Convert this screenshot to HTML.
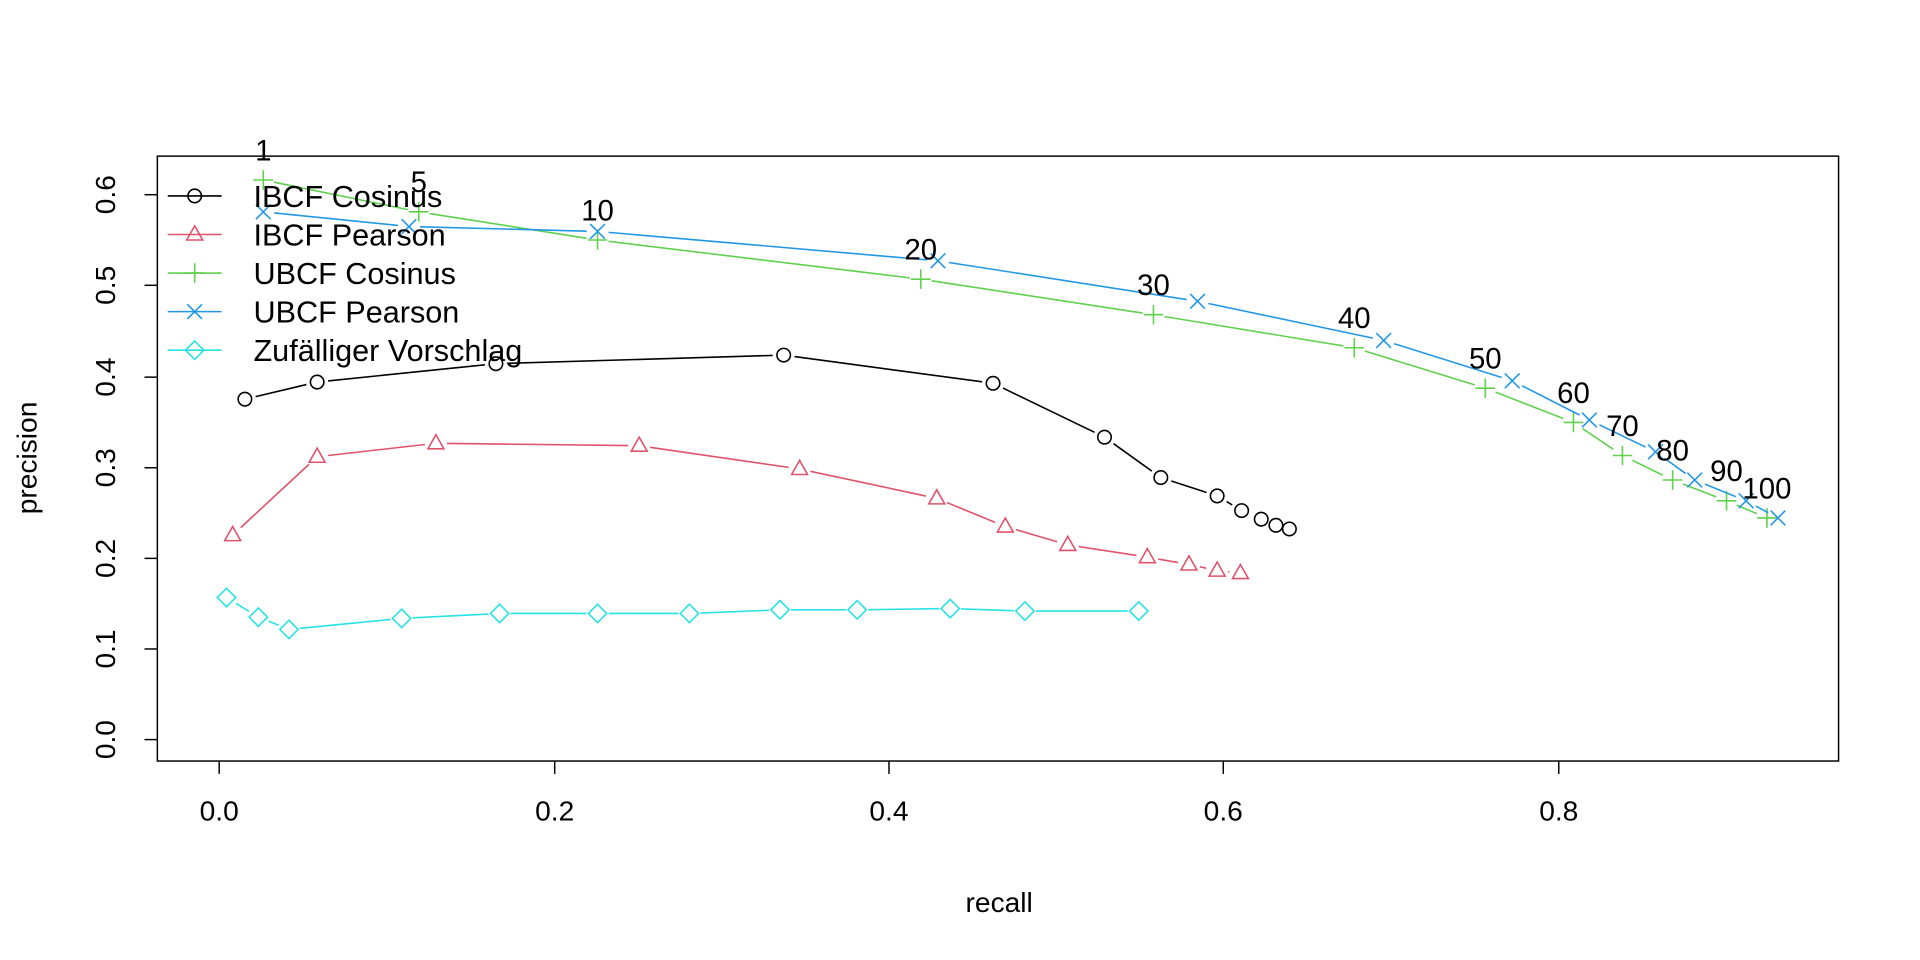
<!DOCTYPE html>
<html><head><meta charset="utf-8"><style>html,body{margin:0;padding:0;background:#fff}svg{display:block}text{font-family:"Liberation Sans",Arial,sans-serif}</style></head>
<body>
<svg id="s" width="1920" height="960" viewBox="0 0 1568 784" xmlns="http://www.w3.org/2000/svg">
<rect width="1568" height="784" fill="#fff"/>
<rect x="128.5" y="127.5" width="1373" height="494" fill="none" stroke="#000" stroke-width="1.2"/>
<g stroke="#000" stroke-width="1.2">
<line x1="179" y1="622" x2="179" y2="632"/><line x1="453" y1="622" x2="453" y2="632"/><line x1="726" y1="622" x2="726" y2="632"/><line x1="999" y1="622" x2="999" y2="632"/><line x1="1273" y1="622" x2="1273" y2="632"/>
<line x1="118" y1="604" x2="128" y2="604"/><line x1="118" y1="530" x2="128" y2="530"/><line x1="118" y1="456" x2="128" y2="456"/><line x1="118" y1="382" x2="128" y2="382"/><line x1="118" y1="308" x2="128" y2="308"/><line x1="118" y1="233" x2="128" y2="233"/><line x1="118" y1="159" x2="128" y2="159"/>
</g>
<g font-size="23" text-anchor="middle">
<text x="179" y="670">0.0</text><text x="453" y="670">0.2</text><text x="726" y="670">0.4</text><text x="999" y="670">0.6</text><text x="1273" y="670">0.8</text>
<text transform="translate(94,604) rotate(-90)">0.0</text><text transform="translate(94,530) rotate(-90)">0.1</text><text transform="translate(94,456) rotate(-90)">0.2</text><text transform="translate(94,382) rotate(-90)">0.3</text><text transform="translate(94,308) rotate(-90)">0.4</text><text transform="translate(94,233) rotate(-90)">0.5</text><text transform="translate(94,159) rotate(-90)">0.6</text>
<text x="816" y="745">recall</text>
<text transform="translate(30,374) rotate(-90)">precision</text>
</g>
<g id="plot"></g>
</svg>
<script>
const g=document.getElementById('plot');const NS='http://www.w3.org/2000/svg';
function el(t,a){const e=document.createElementNS(NS,t);for(const k in a)e.setAttribute(k,a[k]);g.appendChild(e);return e;}
function mark(type,x,y,c){const r=5.5;
 if(type=='o')el('circle',{cx:x,cy:y,r:r,fill:'none',stroke:c,'stroke-width':1.3});
 if(type=='t')el('polygon',{points:`${x},${y-7} ${x-6.5},${y+4.5} ${x+6.5},${y+4.5}`,fill:'none',stroke:c,'stroke-width':1.3});
 if(type=='p'){el('line',{x1:x-8,y1:y,x2:x+8,y2:y,stroke:c,'stroke-width':1.3});el('line',{x1:x,y1:y-8,x2:x,y2:y+8,stroke:c,'stroke-width':1.3});}
 if(type=='x'){el('line',{x1:x-6,y1:y-6,x2:x+6,y2:y+6,stroke:c,'stroke-width':1.3});el('line',{x1:x-6,y1:y+6,x2:x+6,y2:y-6,stroke:c,'stroke-width':1.3});}
 if(type=='d')el('polygon',{points:`${x},${y-7.5} ${x+7.5},${y} ${x},${y+7.5} ${x-7.5},${y}`,fill:'none',stroke:c,'stroke-width':1.3});
}
function series(pts,type,c){const gap=9;
 for(let i=0;i<pts.length-1;i++){const [x1,y1]=pts[i],[x2,y2]=pts[i+1];const dx=x2-x1,dy=y2-y1,L=Math.hypot(dx,dy);
  if(L>2*gap){const ux=dx/L,uy=dy/L;el('line',{x1:x1+ux*gap,y1:y1+uy*gap,x2:x2-ux*gap,y2:y2-uy*gap,stroke:c,'stroke-width':1.3});}}
 pts.forEach(p=>mark(type,p[0],p[1],c));}
series([[200,326],[259,312],[405,297],[640,290],[811,313],[902,357],[948,390],[994,405],[1014,417],[1030,424],[1042,429],[1053,432]],'o','#000');
series([[190,437],[259,373],[356,362],[522,364],[653,383],[765,407],[821,430],[872,445],[937,455],[971,461],[994,466],[1013,468]],'t','#DF536B');
const gr=[[215,147],[342,173],[488,196],[752,228],[942,257],[1106,284],[1213,317],[1285,345],[1325,372],[1366,392],[1410,409],[1443,423]];
series(gr,'p','#61D04F');
series([[215,173],[334,185],[488,189],[766,213],[978,246],[1130,278],[1235,311],[1298,343],[1352,369],[1384,392],[1426,409],[1452,423]],'x','#2297E6');
series([[185,488],[211,504],[236,514],[328,505],[408,501],[488,501],[563,501],[637,498],[700,498],[776,497],[837,499],[930,499]],'d','#28E2E5');
const labs=['1','5','10','20','30','40','50','60','70','80','90','100'];
gr.forEach((p,i)=>{const t=el('text',{x:p[0],y:p[1]-16,'font-size':24,'text-anchor':'middle'});t.textContent=labs[i];});
const leg=[['IBCF Cosinus','o','#000'],['IBCF Pearson','t','#DF536B'],['UBCF Cosinus','p','#61D04F'],['UBCF Pearson','x','#2297E6'],['Zufälliger Vorschlag','d','#28E2E5']];
leg.forEach((l,i)=>{const y=160+i*31.5;el('line',{x1:137,y1:y,x2:181,y2:y,stroke:l[2],'stroke-width':1.3});mark(l[1],159,y,l[2]);
 const t=el('text',{x:207,y:y+9,'font-size':25});t.textContent=l[0];});
</script>
</body></html>
